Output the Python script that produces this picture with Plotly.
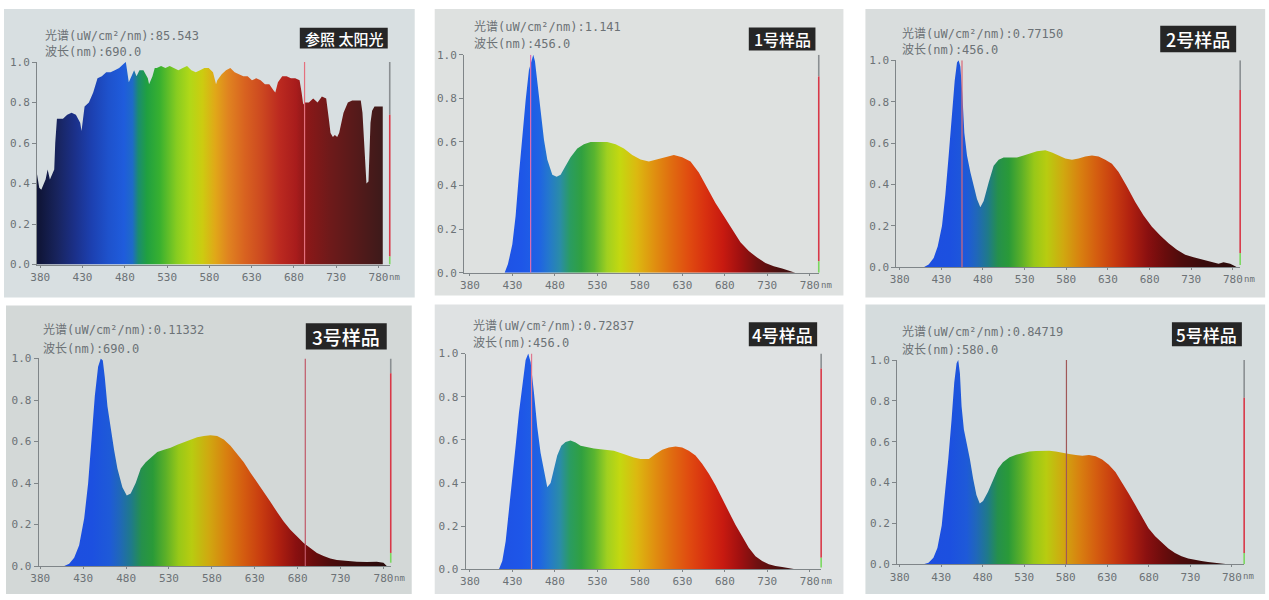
import plotly.graph_objects as go

W, H = 1269, 600

# ---------------- data ----------------
panel_titles = ["参照 太阳光", "1号样品", "2号样品", "3号样品", "4号样品", "5号样品"]
power_readings = ["85.543", "1.141", "0.77150", "0.11332", "0.72837", "0.84719"]
cursor_readings = ["690.0", "456.0", "456.0", "690.0", "456.0", "580.0"]
cursor_nm = [692.6, 451.4, 454.8, 688.9, 452.5, 580.8]

x_ticks = [380, 430, 480, 530, 580, 630, 680, 730, 780]
y_ticks = [0.0, 0.2, 0.4, 0.6, 0.8, 1.0]

sun_nm = [376, 378.8, 381.2, 386.3, 388.7, 391.4, 396.5, 397.7, 399.7, 406.8, 411.9, 417.0, 422.1,
          427.2, 428.8, 432.4, 437.5, 442.6, 447.7, 452.8, 458.0, 463.1, 468.2, 473.3, 478.4, 481.2,
          484.7, 488.7, 491.0, 493.8, 497.3, 502.0, 507.2, 508.7, 512.7, 515.4, 517.8, 522.9, 528.0,
          533.1, 538.3, 543.4, 548.5, 553.6, 558.7, 563.9, 569.0, 574.1, 579.2, 584.3, 587.9, 589.4,
          594.6, 599.7, 604.8, 609.9, 615.0, 620.2, 625.3, 630.4, 635.5, 640.6, 645.7, 650.9, 656.0,
          658.0, 661.1, 666.2, 671.3, 676.5, 681.6, 686.7, 689.1, 691.0, 692.6, 697.7, 702.8, 708.0,
          713.1, 718.2, 721.3, 723.3, 726.1, 728.4, 731.2, 733.5, 738.7, 743.8, 748.9, 754.0, 759.1,
          761.1, 764.3, 765.8, 768.2, 770.6, 772.5, 775.3, 780.4, 783.9, 785.1]
sun_val = [0.45, 0.38, 0.37, 0.42, 0.47, 0.42, 0.47, 0.60, 0.72, 0.72, 0.74, 0.75, 0.74,
           0.70, 0.66, 0.78, 0.80, 0.85, 0.92, 0.93, 0.95, 0.95, 0.96, 0.97, 0.99, 1.0,
           0.90, 0.94, 0.96, 0.93, 0.96, 0.96, 0.92, 0.89, 0.93, 0.97, 0.97, 0.98, 0.97,
           0.98, 0.97, 0.96, 0.97, 0.98, 0.96, 0.95, 0.96, 0.97, 0.97, 0.95, 0.89, 0.91,
           0.94, 0.96, 0.97, 0.95, 0.94, 0.93, 0.93, 0.91, 0.92, 0.91, 0.89, 0.89, 0.86,
           0.85, 0.90, 0.93, 0.93, 0.92, 0.92, 0.91, 0.85, 0.79, 0.80, 0.80, 0.82, 0.80,
           0.83, 0.82, 0.72, 0.65, 0.63, 0.64, 0.63, 0.65, 0.75, 0.80, 0.81, 0.81, 0.81,
           0.75, 0.50, 0.40, 0.41, 0.70, 0.76, 0.78, 0.78, 0.78, 0.78]

s1_nm = [420.8, 424.7, 429.8, 433.7, 437.6, 441.6, 445.5, 449.4, 452.5, 454.5, 456.5, 459.2, 463.1,
         467.1, 471.0, 476.9, 482.0, 486.7, 492.5, 498.4, 506.3, 514.1, 522.0, 531.8, 541.6, 551.4,
         561.2, 571.0, 580.8, 590.6, 600.4, 610.2, 620.0, 629.8, 639.6, 649.4, 659.2, 669.0, 678.8,
         688.6, 698.4, 708.2, 718.0, 727.8, 737.6, 747.5, 757.3, 763.0]
s1_val = [0.0, 0.04, 0.13, 0.26, 0.45, 0.63, 0.79, 0.93, 0.98, 1.0, 0.97, 0.88, 0.75,
          0.61, 0.52, 0.45, 0.44, 0.45, 0.49, 0.53, 0.57, 0.59, 0.60, 0.60, 0.60, 0.59,
          0.57, 0.54, 0.52, 0.51, 0.52, 0.53, 0.54, 0.53, 0.51, 0.46, 0.39, 0.32, 0.26,
          0.20, 0.14, 0.10, 0.07, 0.045, 0.03, 0.02, 0.008, 0.0]

s2_nm = [408.8, 414.8, 420.8, 425.6, 430.8, 434.8, 438.8, 442.8, 446.0, 448.8, 450.8, 452.8, 455.2,
         457.6, 460.8, 464.8, 468.8, 472.8, 476.8, 480.8, 486.8, 492.8, 498.8, 504.8, 512.8, 520.8,
         528.8, 536.8, 544.8, 554.8, 562.8, 570.8, 578.8, 586.8, 594.8, 602.8, 610.8, 618.8, 626.8,
         634.8, 642.8, 652.8, 662.8, 672.8, 682.8, 692.8, 702.8, 712.8, 722.8, 732.8, 742.8, 752.8,
         762.8, 768.8, 776.8, 782.8, 784.8]
s2_val = [0.0, 0.013, 0.045, 0.10, 0.20, 0.35, 0.54, 0.75, 0.90, 0.99, 1.0, 0.97, 0.84,
          0.65, 0.54, 0.46, 0.39, 0.33, 0.29, 0.32, 0.41, 0.49, 0.52, 0.53, 0.53, 0.53,
          0.54, 0.55, 0.56, 0.565, 0.555, 0.54, 0.525, 0.52, 0.525, 0.535, 0.54, 0.535, 0.52,
          0.50, 0.46, 0.39, 0.315, 0.25, 0.196, 0.153, 0.116, 0.084, 0.06, 0.048, 0.037, 0.029,
          0.016, 0.024, 0.016, 0.005, 0.0]

s3_nm = [407.9, 413.7, 419.5, 425.3, 431.2, 435.8, 439.7, 443.6, 447.4, 450.5, 452.9, 455.2, 458.3,
         462.2, 466.0, 469.9, 475.7, 480.8, 485.4, 491.2, 497.1, 502.9, 508.7, 516.4, 524.2, 531.9,
         539.7, 547.4, 555.2, 562.9, 570.7, 578.4, 586.2, 593.9, 601.7, 609.5, 617.2, 625.0, 632.7,
         640.5, 648.2, 656.0, 663.7, 671.5, 679.2, 687.0, 694.7, 702.5, 710.2, 718.0, 725.7, 737.4,
         749.0, 760.6, 772.2, 780.0, 783.9]
s3_val = [0.0, 0.011, 0.04, 0.10, 0.23, 0.40, 0.61, 0.82, 0.96, 1.0, 0.99, 0.91, 0.77,
          0.66, 0.56, 0.47, 0.38, 0.34, 0.35, 0.40, 0.47, 0.50, 0.52, 0.55, 0.56, 0.57,
          0.584, 0.595, 0.608, 0.62, 0.627, 0.63, 0.627, 0.61, 0.58, 0.54, 0.50, 0.45, 0.405,
          0.357, 0.31, 0.26, 0.214, 0.175, 0.143, 0.111, 0.087, 0.063, 0.048, 0.036, 0.029, 0.024,
          0.021, 0.019, 0.021, 0.016, 0.0]

s4_nm = [414.1, 418.0, 422.0, 425.9, 429.8, 433.7, 437.6, 441.6, 445.5, 448.6, 451.4, 455.3, 459.2,
         463.1, 467.1, 471.0, 474.9, 478.8, 482.7, 487.5, 492.5, 498.4, 504.3, 510.2, 518.0, 525.9,
         533.7, 541.6, 549.4, 557.3, 565.1, 572.9, 580.8, 590.6, 598.4, 606.3, 614.1, 622.0, 629.8,
         637.6, 645.5, 653.3, 661.2, 669.0, 676.9, 684.7, 692.5, 700.4, 708.2, 716.1, 723.9, 731.8,
         739.6, 747.5, 755.3, 763.0]
s4_val = [0.0, 0.038, 0.13, 0.27, 0.42, 0.57, 0.725, 0.86, 0.97, 1.0, 0.96, 0.82, 0.66,
          0.54, 0.45, 0.38, 0.40, 0.466, 0.527, 0.573, 0.59, 0.597, 0.588, 0.573, 0.565, 0.56,
          0.557, 0.554, 0.55, 0.539, 0.527, 0.518, 0.511, 0.511, 0.534, 0.554, 0.565, 0.569, 0.565,
          0.55, 0.527, 0.489, 0.443, 0.39, 0.328, 0.267, 0.206, 0.153, 0.10, 0.061, 0.038, 0.023,
          0.015, 0.011, 0.005, 0.0]

s5_nm = [408.7, 414.7, 420.6, 425.4, 430.6, 434.6, 438.6, 442.5, 445.7, 448.5, 450.5, 452.5, 454.5,
         457.3, 460.5, 464.5, 468.4, 472.4, 476.4, 480.4, 486.4, 492.4, 498.3, 504.3, 512.3, 520.2,
         528.2, 536.2, 544.1, 552.1, 560.1, 568.0, 576.0, 584.0, 592.0, 599.9, 607.9, 615.9, 623.8,
         631.8, 639.8, 647.7, 655.7, 663.7, 671.6, 679.6, 687.6, 695.5, 703.5, 711.5, 719.4, 727.4,
         735.4, 743.3, 751.3, 759.3, 767.3, 775.0]
s5_val = [0.0, 0.008, 0.032, 0.08, 0.19, 0.34, 0.52, 0.71, 0.89, 0.985, 1.0, 0.935, 0.774,
          0.66, 0.597, 0.516, 0.42, 0.339, 0.298, 0.31, 0.355, 0.411, 0.468, 0.50, 0.524, 0.537,
          0.545, 0.552, 0.555, 0.556, 0.556, 0.552, 0.545, 0.54, 0.535, 0.532, 0.535, 0.529, 0.513,
          0.487, 0.452, 0.403, 0.347, 0.29, 0.234, 0.177, 0.137, 0.105, 0.077, 0.056, 0.04, 0.029,
          0.021, 0.016, 0.011, 0.008, 0.003, 0.0]

spectra_nm = [sun_nm, s1_nm, s2_nm, s3_nm, s4_nm, s5_nm]
spectra_val = [sun_val, s1_val, s2_val, s3_val, s4_val, s5_val]

# right-hand level indicator: [bottom of grey part, bottom of red part, bottom of green part]
indicator_levels = [[0.74, 0.04, 0.0], [0.90, 0.053, 0.0], [0.857, 0.068, 0.01],
                    [0.929, 0.063, 0.016], [0.931, 0.053, 0.008], [0.815, 0.056, 0.0]]

# ---------------- styling / geometry ----------------
sun_scale = [[0.0, "#10163a"], [0.05, "#18245e"], [0.10, "#1b3088"], [0.15, "#1c40b0"],
             [0.20, "#1e52cc"], [0.245, "#1f5cdc"], [0.27, "#1e6ac8"], [0.2875, "#1b8c70"],
             [0.3125, "#20a040"], [0.35, "#38b030"], [0.40, "#88cc20"], [0.4375, "#b0d818"],
             [0.475, "#cccc10"], [0.5125, "#e0a818"], [0.55, "#e08420"], [0.60, "#d86220"],
             [0.65, "#cc4820"], [0.70, "#bc2a20"], [0.75, "#a81c1c"], [0.775, "#8e1818"],
             [0.85, "#6e1a1a"], [0.925, "#561a1a"], [1.0, "#3e1a1a"]]
led_bright = [[0.0, "#1e4ce0"], [0.15, "#1e56e8"], [0.20, "#1f62e4"], [0.23, "#2478cc"],
              [0.2625, "#2a8ca8"], [0.2925, "#2a9c60"], [0.325, "#30a040"], [0.3625, "#58b430"],
              [0.40, "#a0d020"], [0.4375, "#c4d810"], [0.4875, "#dcb810"], [0.5375, "#e09010"],
              [0.5875, "#e06c10"], [0.6375, "#e04c10"], [0.6875, "#d83010"], [0.7375, "#c81a10"],
              [0.7875, "#a01010"], [0.8375, "#701010"], [0.90, "#4a1010"], [1.0, "#2c1010"]]
led_dark = [[0.0, "#1e4ce0"], [0.15, "#1c50e0"], [0.20, "#1e5ad8"], [0.23, "#2068b8"],
            [0.2625, "#1f7a8a"], [0.2925, "#25904c"], [0.325, "#2a9a38"], [0.3625, "#5cb028"],
            [0.40, "#98c818"], [0.4375, "#b8cc10"], [0.4875, "#d0a810"], [0.5375, "#d88010"],
            [0.5875, "#d45c10"], [0.6375, "#c83c10"], [0.6875, "#b02010"], [0.7375, "#8a1010"],
            [0.7875, "#6a0c0c"], [0.8375, "#4e0c0c"], [0.90, "#3a0c0c"], [1.0, "#2a0c0c"]]
scales = [sun_scale, led_bright, led_dark, led_dark, led_bright, led_dark]

panels = [
    dict(rect=(3, 8, 414, 300), p380=39.3, p780=377.7, axl=36, axr=389, y0=266.7, y1=61.7,
         bg="#d8dfe1", txt=(41.7, 35, 52), box=(299, 27, 387, 48), fs=15, cur="#e4707e"),
    dict(rect=(434, 8, 843, 298), p380=469.3, p780=809.3, axl=463.3, axr=818.3, y0=275, y1=54.3,
         bg="#dee1e0", txt=(471.7, 26, 43.3), box=(748.3, 26.7, 815, 50), fs=16, cur="#e070b0"),
    dict(rect=(865, 8, 1265, 300), p380=899.3, p780=1232.7, axl=896, axr=1240, y0=269.3, y1=60,
         bg="#d9dddd", txt=(900, 33.3, 50), box=(1160, 25, 1236, 51.7), fs=18, cur="#d86878"),
    dict(rect=(5, 308, 411, 600), p380=39.3, p780=382.7, axl=37.7, axr=390, y0=571.7, y1=361.7,
         bg="#d3d8d7", txt=(40, 333.3, 351.7), box=(305, 326, 386, 352.7), fs=19, cur="#c05868"),
    dict(rect=(434, 307, 843, 600), p380=469.3, p780=809.3, axl=465, axr=820.7, y0=575, y1=356.7,
         bg="#dfe2e3", txt=(470, 329.3, 346), box=(748.3, 325, 816.7, 349.3), fs=17, cur="#e07890"),
    dict(rect=(865, 307, 1265, 600), p380=899.3, p780=1231.7, axl=896.7, axr=1244, y0=570, y1=363.3,
         bg="#d5dcdd", txt=(900, 335, 353.3), box=(1171.7, 325, 1241.7, 349.3), fs=17, cur="#a05858"),
]

# compensation for the small offset/scale observed in the photographed page
OX, SX, OY, SY = 7.0, 0.992, 5.0, 0.99


def PX(x):
    return (x - OX) / SX


def PY(y):
    return (y - OY) / SY


GREY = "#6c7276"
MONO = "DejaVu Sans Mono, Noto Sans CJK SC, monospace"
CJK = "Noto Sans CJK SC, sans-serif"

fig = go.Figure()
layout = dict(width=W, height=H, margin=dict(l=0, r=0, t=0, b=0, pad=0),
              paper_bgcolor="white", plot_bgcolor="rgba(0,0,0,0)", showlegend=False,
              shapes=[], annotations=[])


def px2nm(px, p):
    return 380 + (px - p["p380"]) * 400.0 / (p["p780"] - p["p380"])


def clamp(v):
    return max(0.0, min(1.0, v))


for i, p in enumerate(panels):
    k = "" if i == 0 else str(i + 1)
    xa, ya = "x" + k, "y" + k
    x0, y0, x1, y1 = p["rect"]
    layout["shapes"].append(dict(type="rect", xref="paper", yref="paper", layer="below",
                                 x0=PX(x0) / W, x1=PX(x1) / W, y0=1 - PY(y1) / H, y1=1 - PY(y0) / H,
                                 fillcolor=p["bg"], line=dict(width=0)))
    layout["xaxis" + k] = dict(
        domain=[clamp(PX(p["axl"]) / W), clamp(PX(p["axr"]) / W)], anchor=ya,
        range=[px2nm(p["axl"], p), px2nm(p["axr"], p)],
        tickvals=x_ticks, ticktext=[str(t) for t in x_ticks],
        tickfont=dict(family=MONO, size=11, color=GREY),
        showline=True, linecolor="#7f8588", linewidth=1, ticks="outside", ticklen=2,
        tickcolor="#7f8588", showgrid=False, zeroline=False, fixedrange=True)
    layout["yaxis" + k] = dict(
        domain=[clamp(1 - PY(p["y0"]) / H), clamp(1 - PY(p["y1"]) / H)], anchor=xa, range=[0, 1.0],
        tickvals=y_ticks, ticktext=["%.1f" % t for t in y_ticks],
        tickfont=dict(family=MONO, size=11, color=GREY),
        showline=True, linecolor="#7f8588", linewidth=1, ticks="outside", ticklen=4,
        tickcolor="#7f8588", showgrid=False, zeroline=False, fixedrange=True)

    fig.add_trace(go.Scatter(
        x=spectra_nm[i], y=spectra_val[i], xaxis=xa, yaxis=ya, mode="lines",
        line=dict(width=0, color="rgba(0,0,0,0)"), fill="tozeroy",
        fillgradient=dict(type="horizontal", colorscale=scales[i], start=380, stop=780),
        hoverinfo="skip"))

    layout["shapes"].append(dict(type="line", xref=xa, yref=ya, x0=cursor_nm[i], x1=cursor_nm[i],
                                 y0=0, y1=1.0, line=dict(color=p["cur"], width=1.2)))
    lv = indicator_levels[i]
    for top, bot, col in [(1.0, lv[0], "#8a8f92"), (lv[0], lv[1], "#d83848"), (lv[1], lv[2], "#7ad860")]:
        layout["shapes"].append(dict(type="line", xref=xa + " domain", yref=ya, x0=1, x1=1,
                                     y0=bot, y1=top, line=dict(color=col, width=1.6)))
    layout["annotations"].append(dict(xref=xa, yref=ya + " domain", x=780, y=0, xanchor="left",
                                      yanchor="middle", xshift=9, yshift=-12, showarrow=False,
                                      text="nm", font=dict(family=MONO, size=9, color=GREY)))
    tx, ty1, ty2 = p["txt"]
    layout["annotations"].append(dict(xref="paper", yref="paper", x=PX(tx) / W, y=1 - PY(ty1) / H,
                                      xanchor="left", yanchor="middle", showarrow=False,
                                      text="光谱(uW/cm²/nm):" + power_readings[i],
                                      font=dict(family=MONO, size=12, color=GREY)))
    layout["annotations"].append(dict(xref="paper", yref="paper", x=PX(tx) / W, y=1 - PY(ty2) / H,
                                      xanchor="left", yanchor="middle", showarrow=False,
                                      text="波长(nm):" + cursor_readings[i],
                                      font=dict(family=MONO, size=12, color=GREY)))
    bx0, by0, bx1, by1 = p["box"]
    layout["shapes"].append(dict(type="rect", xref="paper", yref="paper",
                                 x0=PX(bx0) / W, x1=PX(bx1) / W, y0=1 - PY(by1) / H, y1=1 - PY(by0) / H,
                                 fillcolor="#262626", line=dict(width=0)))
    layout["annotations"].append(dict(xref="paper", yref="paper", x=(PX(bx0) + PX(bx1)) / 2 / W,
                                      y=1 - (PY(by0) + PY(by1)) / 2 / H, xanchor="center",
                                      yanchor="middle", showarrow=False, text=panel_titles[i],
                                      font=dict(family=CJK, size=p["fs"], color="white", weight=500)))

fig.update_layout(**layout)
fig.write_html(
    "out.html",
    config={"displayModeBar": False, "responsive": False},
    post_script=("document.documentElement.style.margin='0';"
                 "document.documentElement.style.padding='0';"
                 "document.documentElement.style.overflow='hidden';"
                 "document.body.style.margin='0';document.body.style.padding='0';"
                 "document.body.style.overflow='hidden';"
                 "var d=document.getElementById('{plot_id}');"
                 "d.style.position='fixed';d.style.left='0px';d.style.top='0px';"),
)
